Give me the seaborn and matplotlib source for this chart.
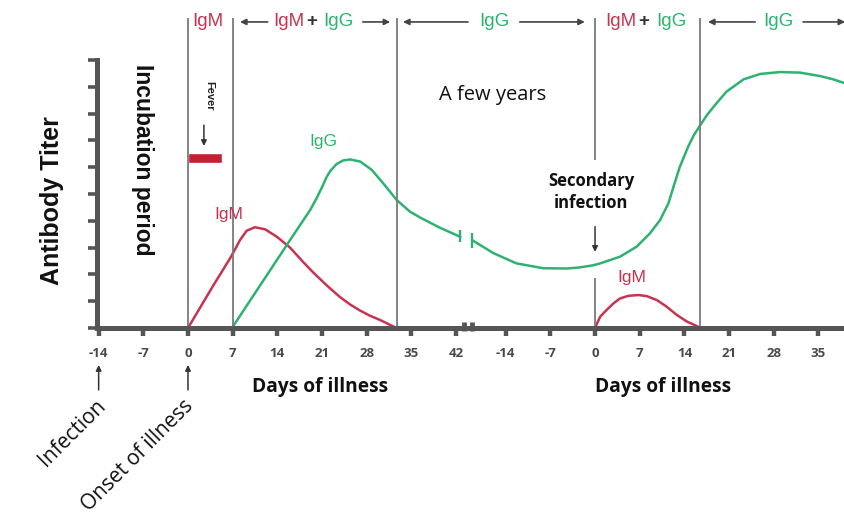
import matplotlib
matplotlib.use("Agg")
import matplotlib.pyplot as plt
import numpy as np
import pandas as pd
import seaborn as sns

# ---------------- data ----------------
# primary response (days of illness, first timeline)
igm1_day = [0, 2, 4, 6.6, 7.3, 8.15, 9.2, 10.5, 12.1, 13.9, 16.0, 18.1, 19.6, 21.7, 23.8,
            25.4, 26.9, 28.5, 30.1, 32.7]
igm1_val = [0, 0.8, 1.6, 2.6, 2.9, 3.28, 3.63, 3.76, 3.68, 3.41, 3.0, 2.45, 2.08, 1.6, 1.16,
            0.88, 0.66, 0.46, 0.3, 0]

igg1_day = [6.9, 10, 13, 14.5, 16.0, 18.1, 19.2, 20.2, 21.2, 21.7, 22.3, 23.3, 24.3, 25.4, 27.0,
            28.8, 30.6, 32.7, 34.8, 36.4, 39.5, 42.7]
igg1_val = [0, 1.12, 2.2, 2.74, 3.28, 4.03, 4.42, 4.86, 5.35, 5.62, 5.86, 6.12, 6.25, 6.29, 6.21,
            5.90, 5.40, 4.78, 4.34, 4.12, 3.74, 3.40]

# secondary response (days of illness, second timeline)
igg2_day = [-19.2, -15.9, -12.3, -8.1, -4.4, -2.4, -0.3, 0.8, 3.9, 6.5, 8.6, 10.2, 11.5, 12.3,
            13.3, 14.0, 14.6, 15.5, 16.5, 17.5, 18.6, 20.6, 23.3, 25.9, 29.0, 32.1, 35.3,
            37.3, 39.2]
igg2_val = [3.27, 2.79, 2.41, 2.23, 2.22, 2.26, 2.34, 2.41, 2.66, 3.03, 3.53, 4.03, 4.65, 5.27,
            6.02, 6.42, 6.77, 7.2, 7.57, 7.93, 8.26, 8.82, 9.28, 9.48, 9.55, 9.53, 9.40,
            9.28, 9.13]

igm2_day = [0, 0.8, 1.8, 2.9, 3.9, 5.2, 6.8, 8.1, 9.7, 11.2, 12.8, 14.4, 15.7, 16.5]
igm2_val = [0, 0.42, 0.67, 0.92, 1.1, 1.2, 1.23, 1.19, 1.04, 0.8, 0.49, 0.24, 0.1, 0.0]

fever_start, fever_end = 0, 5.3
phase_bounds_1 = [0, 7, 32.8]
phase_bounds_2 = [0, 16.5]
ticks_1 = [-14, -7, 0, 7, 14, 21, 28, 35, 42]
ticks_2 = [-14, -7, 0, 7, 14, 21, 28, 35]
y_ticks = list(range(0, 11))

SEG2 = 63.8  # where day 0 of the second timeline sits on the shared axis

RED = "#c8334f"
GREEN = "#2db36f"
GRAY = "#555555"
LINE = "#7a7a7a"

# ---------------- frame ----------------
sns.set_theme(style="white")
plt.rcParams["font.family"] = ["Liberation Sans", "DejaVu Sans"]

W, H = 845, 521
fig = plt.figure(figsize=(W / 100, H / 100), dpi=100)
ax = fig.add_axes([97 / W, (H - 328) / H, (W - 97) / W, (328 - 60) / H])
ax.set_xlim(-14.26, 102.98)
ax.set_ylim(0, 10)

def curve(days, vals, off, color):
    df = pd.DataFrame({"x": np.asarray(days, float) + off, "y": vals})
    sns.lineplot(data=df, x="x", y="y", ax=ax, color=color, lw=1.8, sort=False,
                 estimator=None, clip_on=False)

curve(igm1_day, igm1_val, 0, RED)
curve(igg1_day, igg1_val, 0, GREEN)
curve(igg2_day, igg2_val, SEG2, GREEN)
curve(igm2_day, igm2_val, SEG2, RED)

# break caps on the IgG curve
ax.vlines(igg1_day[-1], igg1_val[-1] - 0.2, igg1_val[-1] + 0.26, color=GREEN, lw=1.7)
ax.vlines(igg2_day[0] + SEG2 - 0.1, igg2_val[0] - 0.3, igg2_val[0] + 0.28, color=GREEN, lw=1.7)

# fever bar
ax.barh(y=6.35, width=fever_end - fever_start, left=fever_start, height=0.38,
        color="#c41f33", align="center")

# phase boundary lines
top = 11.57
for d in phase_bounds_1:
    ax.vlines(d, 0, top, color=LINE, lw=1.3, clip_on=False)
ax.vlines(phase_bounds_2[0] + SEG2, 6.27, top, color=LINE, lw=1.3, clip_on=False)
ax.vlines(phase_bounds_2[0] + SEG2, 0, 1.87, color=LINE, lw=1.3, clip_on=False)
ax.vlines(phase_bounds_2[1] + SEG2, 0, top, color=LINE, lw=1.3, clip_on=False)

# axes styling
for s in ["top", "right"]:
    ax.spines[s].set_visible(False)
for s in ["left", "bottom"]:
    ax.spines[s].set_color(GRAY)
    ax.spines[s].set_linewidth(3.6)
ax.set_yticks(y_ticks)
ax.set_yticklabels([])
xt = [t for t in ticks_1] + [t + SEG2 for t in ticks_2]
ax.set_xticks(xt)
ax.set_xticklabels([str(t) for t in ticks_1] + [str(t) for t in ticks_2],
                   fontdict=dict(family="Open Sans", weight="bold", size=9.5, color="#4a4a4a"))
ax.tick_params(axis="x", bottom=True, direction="out", length=6, width=3.2, color=GRAY, pad=8)
ax.tick_params(axis="y", left=True, direction="out", length=6.5, width=2.6, color=GRAY)
ax.set_xlabel("")
ax.set_ylabel("")
ax.grid(False)

# axis break marks
ax.vlines([43.3, 44.5], -0.12, 0.22, color=GRAY, lw=3.5, clip_on=False)

# header
hy = 11.42
hk = dict(fontsize=13.5, va="center", ha="center", clip_on=False)
ax.text(3.1, hy, "IgM", color=RED, **hk)
ax.text(15.8, hy, "IgM", color=RED, **hk)
ax.text(19.4, hy, "+", color="#333", weight="bold", **hk)
ax.text(23.5, hy, "IgG", color=GREEN, **hk)
ax.text(48.1, hy, "IgG", color=GREEN, **hk)
ax.text(67.9, hy, "IgM", color=RED, **hk)
ax.text(71.4, hy, "+", color="#333", weight="bold", **hk)
ax.text(75.7, hy, "IgG", color=GREEN, **hk)
ax.text(92.5, hy, "IgG", color=GREEN, **hk)

def arrow(x0, y0, x1, y1, lw=1.2, ms=9, color="#444"):
    ax.annotate("", xy=(x1, y1), xytext=(x0, y0), annotation_clip=False,
                arrowprops=dict(arrowstyle="-|>", color=color, lw=lw, mutation_scale=ms,
                                shrinkA=0, shrinkB=0))

arrow(12.5, hy, 8.15, hy)
arrow(27.4, hy, 31.7, hy)
arrow(43.9, hy, 33.7, hy)
arrow(52.0, hy, 62.2, hy)
arrow(88.9, hy, 81.5, hy)
arrow(96.4, hy, 103.0, hy)

# labels in the plot
ax.text(3.3, 8.66, "Fever", rotation=-90, fontsize=8, weight="bold", ha="center",
        va="center", color="#222")
arrow(2.5, 7.57, 2.5, 6.79, lw=1.1, ms=8, color="#333")
ax.text(-7.2, 6.27, "Incubation period", rotation=-90, fontsize=16.5, weight="bold",
        ha="center", va="center", color="#111", clip_on=False)
ax.text(6.4, 4.24, "IgM", color=RED, fontsize=12.5, ha="center", va="center")
ax.text(21.2, 6.96, "IgG", color=GREEN, fontsize=12.5, ha="center", va="center")
ax.text(69.6, 1.90, "IgM", color=RED, fontsize=12.5, ha="center", va="center")
ax.text(47.7, 8.68, "A few years", family="Open Sans", fontsize=14.5, ha="center",
        va="center", color="#111")
ax.text(63.2, 5.07, "Secondary\ninfection", family="Open Sans", weight="bold", fontsize=12,
        ha="center", va="center", color="#111", linespacing=1.25)
arrow(SEG2, 3.78, SEG2, 2.84, lw=1.1, ms=8, color="#333")

# below the axis
arrow(-14, -2.31, -14, -1.38, lw=1.1, ms=8, color="#333")
arrow(0, -2.31, 0, -1.38, lw=1.1, ms=8, color="#333")
ax.text(20.7, -2.2, "Days of illness", family="Open Sans", weight="bold", fontsize=13.8,
        ha="center", va="center", color="#111", clip_on=False)
ax.text(10.7 + SEG2, -2.2, "Days of illness", family="Open Sans", weight="bold", fontsize=13.8,
        ha="center", va="center", color="#111", clip_on=False)

fig.text(52 / W, 1 - 201 / H, "Antibody Titer", rotation=90, fontsize=18, weight="bold",
         ha="center", va="center", color="#111")
fig.text(102 / W, 1 - 403 / H, "Infection", rotation=45, rotation_mode="anchor", fontsize=15,
         family="Open Sans", ha="right", va="center", color="#111")
fig.text(190 / W, 1 - 403 / H, "Onset of illness", rotation=45, rotation_mode="anchor",
         fontsize=15, family="Open Sans", ha="right", va="center", color="#111")

fig.savefig("out.png", dpi=100, facecolor="white")
